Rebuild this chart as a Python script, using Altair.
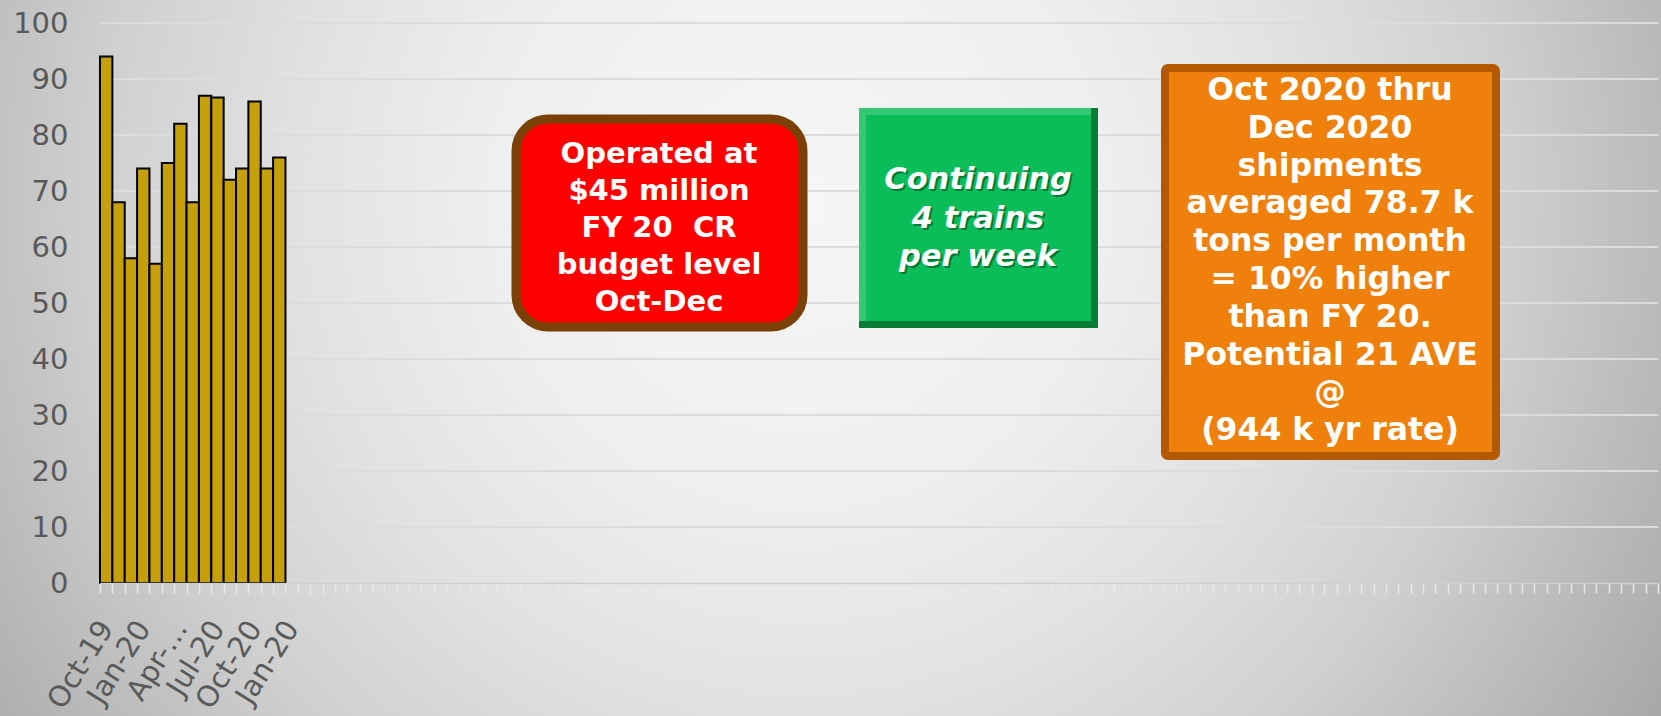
import altair as alt
import pandas as pd

# ---- data ----
months = ["Oct-19", "Nov-19", "Dec-19", "Jan-20", "Feb-20", "Mar-20", "Apr-20",
          "May-20", "Jun-20", "Jul-20", "Aug-20", "Sep-20", "Oct-20", "Nov-20", "Dec-20"]
shipments = [94, 68, 58, 74, 57, 75, 82, 68, 87, 86.7, 72, 74, 86, 74, 76]
empty_slots = 111  # unused category slots along the x axis
tick_labels = {"Oct-19": "Oct-19", "Jan-20": "Jan-20", "Apr-20": "Apr-…",
               "Jul-20": "Jul-20", "Oct-20": "Oct-20", "e0": "Jan-20"}
y_ticks = [0, 10, 20, 30, 40, 50, 60, 70, 80, 90, 100]
grid_values = [10, 20, 30, 40, 50, 60, 70, 80, 90, 100]

red_lines = ["Operated at", "$45 million", "FY 20\u00a0 CR", "budget level", "Oct-Dec"]
green_lines = ["Continuing", "4 trains", "per week"]
orange_lines = ["Oct 2020 thru", "Dec 2020", "shipments", "averaged 78.7 k",
                "tons per month", "= 10% higher", "than FY 20.", "Potential 21 AVE",
                "@", "(944 k yr rate)"]

W, H = 1558, 560
PAD = {"left": 100, "top": 23, "right": 3, "bottom": 133}
FONT = "DejaVu Sans"
LABEL_COLOR = "#595959"

domain = months + [f"e{i}" for i in range(empty_slots)]
label_expr = " : ".join(f"datum.value == '{k}' ? '{v}'" for k, v in tick_labels.items()) + " : ''"

df = pd.DataFrame({"month": months, "value": shipments})
grid_df = pd.DataFrame({"value": grid_values})
one = pd.DataFrame({"a": [0]})

y_scale = alt.Scale(domain=[0, 100], nice=False, zero=True)
y_axis = alt.Axis(values=y_ticks, title=None, grid=False, domain=False, ticks=False,
                  labelFont=FONT, labelFontSize=29, labelColor=LABEL_COLOR,
                  labelPadding=32, zindex=1)

# ---- background gradient ----
bg_grad = alt.RadialGradient(
    gradient="radial",
    x1=0.4816, y1=0.405, r1=0,
    x2=0.4816, y2=0.405, r2=0.602,
    stops=[
        alt.GradientStop(color="#f6f6f6", offset=0),
        alt.GradientStop(color="#efefef", offset=0.3),
        alt.GradientStop(color="#e2e2e2", offset=0.5),
        alt.GradientStop(color="#d0d0d0", offset=0.7),
        alt.GradientStop(color="#c0c0c0", offset=0.82),
        alt.GradientStop(color="#afafaf", offset=0.95),
        alt.GradientStop(color="#a8a8a8", offset=1),
    ],
)
background = alt.Chart(one).mark_rect(fill=bg_grad).encode(
    x=alt.value(-PAD["left"]), x2=alt.value(W + PAD["right"]),
    y=alt.value(-PAD["top"]), y2=alt.value(H + PAD["bottom"]),
)

grid = alt.Chart(grid_df).mark_rule(color="#dcdcdc", strokeWidth=2).encode(
    y=alt.Y("value:Q", scale=y_scale, axis=y_axis),
    x=alt.value(0), x2=alt.value(W),
)

bars = alt.Chart(df).mark_bar(color="#c5a00b", stroke="#000000", strokeWidth=2).encode(
    x=alt.X("month:N", sort=domain,
            scale=alt.Scale(domain=domain, paddingInner=0, paddingOuter=0),
            axis=alt.Axis(title=None, labelExpr=label_expr, labelAngle=-58,
                          labelAlign="right", labelBaseline="middle",
                          labelFont=FONT, labelFontSize=29, labelColor=LABEL_COLOR,
                          labelOverlap=False, labelPadding=30, labelLimit=0,
                          tickBand="extent", tickSize=10, tickColor="#e8e8e8",
                          tickWidth=1.5, domainColor="#cfcfcf", domainWidth=1.5,
                          grid=False, zindex=1)),
    y=alt.Y("value:Q", scale=y_scale, axis=y_axis),
)


def box(x0, x1, y0, y1, **kw):
    return alt.Chart(one).mark_rect(**kw).encode(
        x=alt.value(x0), x2=alt.value(x1), y=alt.value(y0), y2=alt.value(y1))


def text_block(lines, cx, y_first, lh, size, style="normal", color="white", dx=0, dy=0, opacity=1):
    return alt.Chart(one).mark_text(
        text=lines, font=FONT, fontSize=size, fontWeight="bold", fontStyle=style,
        color=color, align="center", baseline="middle", lineHeight=lh,
        dx=dx, dy=dy, opacity=opacity,
    ).encode(x=alt.value(cx), y=alt.value(y_first))


# red rounded box
red_box = box(416, 703, 96, 304, fill="#ff0000", stroke="#7a4006", strokeWidth=9, cornerRadius=32)
red_text = text_block(red_lines, 559, 131, 37.1, 29)

# green bevelled box
g_dark = box(759, 998, 85, 305, fill="#067d37")
g_light = box(759, 991, 85, 298, fill="#34c775")
g_main = box(766, 991, 92, 298, fill="#0abd59")
g_shadow = text_block(green_lines, 878, 157, 38.5, 30.5, style="italic", color="#004d20",
                      dx=2, dy=2, opacity=0.6)
g_text = text_block(green_lines, 878, 157, 38.5, 30.5, style="italic")

# orange box
o_box = box(1065, 1396, 45, 433, fill="#f0800c", stroke="#b35900", strokeWidth=8, cornerRadius=3)
o_text = text_block(orange_lines, 1230, 68, 37.8, 31.5)

chart = alt.layer(
    background, grid, bars, red_box, red_text, g_dark, g_light, g_main, g_shadow, g_text,
    o_box, o_text,
).properties(
    width=W, height=H, padding=PAD, autosize="none",
).configure_view(strokeWidth=0).configure(background="#d0d0d0")

chart.save("out.html", embed_options={"renderer": "svg", "actions": False})
